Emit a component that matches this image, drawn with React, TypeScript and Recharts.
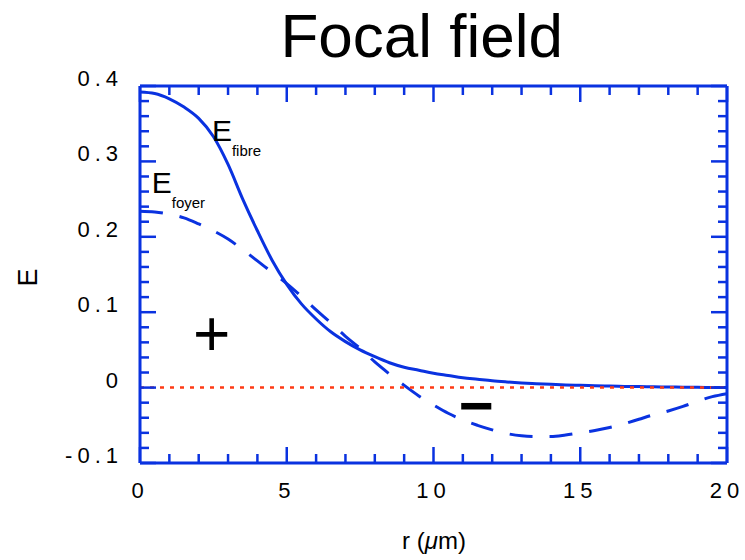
import React from 'react';
import { LineChart, Line, XAxis, YAxis, ReferenceLine, ReferenceDot } from 'recharts';

const rValues = [0, 0.5, 1, 1.5, 2, 2.5, 3, 3.5, 4, 4.5, 5, 5.5, 6, 6.5, 7, 7.5, 8, 8.5, 9, 9.5, 10, 10.5, 11, 11.5, 12, 12.5, 13, 13.5, 14, 14.5, 15, 15.5, 16, 16.5, 17, 17.5, 18, 18.5, 19, 19.5, 20];
const eFibre = [0.392, 0.39, 0.383, 0.372, 0.357, 0.333, 0.296, 0.25, 0.208, 0.169, 0.137, 0.111, 0.091, 0.074, 0.061, 0.05, 0.041, 0.033, 0.027, 0.023, 0.019, 0.016, 0.013, 0.011, 0.009, 0.0075, 0.0062, 0.0052, 0.0043, 0.0036, 0.003, 0.0025, 0.002, 0.0016, 0.0013, 0.001, 0.0008, 0.0006, 0.0004, 0.0002, 0.0001];
const eFoyer = [0.234, 0.233, 0.23, 0.225, 0.217, 0.208, 0.197, 0.183, 0.168, 0.153, 0.138, 0.121, 0.103, 0.086, 0.068, 0.052, 0.034, 0.018, 0.003, -0.011, -0.023, -0.034, -0.043, -0.05, -0.056, -0.061, -0.064, -0.065, -0.065, -0.063, -0.06, -0.057, -0.053, -0.048, -0.042, -0.036, -0.031, -0.025, -0.018, -0.012, -0.008];

const xTicks = [0, 1, 2, 3, 4, 5, 6, 7, 8, 9, 10, 11, 12, 13, 14, 15, 16, 17, 18, 19, 20];
const xMajorTicks = [0, 5, 10, 15, 20];
const yTicks = [-0.1, -0.08, -0.06, -0.04, -0.02, 0, 0.02, 0.04, 0.06, 0.08, 0.1, 0.12, 0.14, 0.16, 0.18, 0.2, 0.22, 0.24, 0.26, 0.28, 0.3, 0.32, 0.34, 0.36, 0.38, 0.4];
const yMajorTicks = [-0.1, 0, 0.1, 0.2, 0.3, 0.4];

const data = rValues.map((r, i) => ({ r, fibre: eFibre[i], foyer: eFoyer[i] }));

const BLUE = '#0a32e0';
const RED = '#ff3a14';
const FONT = '"Liberation Sans", Arial, Helvetica, sans-serif';
const W = 745;
const H = 560;

const isMajor = (v: number, list: number[]) => list.some((m) => Math.abs(m - v) < 1e-9);

const XTick = (side: 'top' | 'bottom') => (props: any) => {
  const { x, y, payload } = props;
  const v = payload.value as number;
  const major = isMajor(v, xMajorTicks);
  const len = major ? 16 : 9;
  const dir = side === 'bottom' ? -1 : 1;
  return (
    <g>
      <line x1={x} y1={y} x2={x} y2={y + dir * len} stroke={BLUE} strokeWidth={2.5} />
      {side === 'bottom' && major && (
        <text x={x} y={y + 35} textAnchor="middle" fontFamily={FONT} fontSize={22} letterSpacing={5} fill="#000">
          {String(v)}
        </text>
      )}
    </g>
  );
};

const YTick = (side: 'left' | 'right') => (props: any) => {
  const { x, y, payload } = props;
  const v = payload.value as number;
  const major = isMajor(v, yMajorTicks);
  const len = major ? 16 : 9;
  const dir = side === 'left' ? 1 : -1;
  return (
    <g>
      <line x1={x} y1={y} x2={x + dir * len} y2={y} stroke={BLUE} strokeWidth={2.5} />
      {side === 'left' && major && (
        <text x={x - 17} y={y} textAnchor="end" fontFamily={FONT} fontSize={22} letterSpacing={5} fill="#000">
          {String(Math.round(v * 10) / 10)}
        </text>
      )}
    </g>
  );
};

const ESub = (main: string, sub: string) => (props: any) => (
  <text x={props.cx} y={props.cy} fontFamily={FONT} fill="#000">
    <tspan fontSize={30}>{main}</tspan>
    <tspan fontSize={15} dy={15}>{sub}</tspan>
  </text>
);

const Sign = (ch: string, size: number, bold: boolean) => (props: any) => (
  <text x={props.cx} y={props.cy + size * 0.35} textAnchor="middle" fontFamily={FONT} fontSize={size} fontWeight={bold ? 'bold' : 'normal'} fill="#000">
    {ch}
  </text>
);

export default function App() {
  return (
    <div style={{ position: 'absolute', left: 0, top: 0, width: W, height: H, background: '#fff' }}>
      <LineChart width={W} height={H} data={data} margin={{ top: 0, right: 0, bottom: 0, left: 0 }}>
        <XAxis
          xAxisId="bottom"
          dataKey="r"
          type="number"
          domain={[0, 20]}
          allowDataOverflow
          ticks={xTicks}
          interval={0}
          height={97}
          tickSize={0}
          tickMargin={0}
          tickLine={false}
          axisLine={{ stroke: BLUE, strokeWidth: 3 }}
          tick={XTick('bottom')}
        />
        <XAxis
          xAxisId="top"
          orientation="top"
          dataKey="r"
          type="number"
          domain={[0, 20]}
          allowDataOverflow
          ticks={xTicks}
          interval={0}
          height={86}
          tickSize={0}
          tickMargin={0}
          tickLine={false}
          axisLine={{ stroke: BLUE, strokeWidth: 3 }}
          tick={XTick('top')}
        />
        <YAxis
          yAxisId="left"
          type="number"
          domain={[-0.1, 0.4]}
          allowDataOverflow
          ticks={yTicks}
          interval={0}
          width={140}
          tickSize={0}
          tickMargin={0}
          tickLine={false}
          axisLine={{ stroke: BLUE, strokeWidth: 3 }}
          tick={YTick('left')}
        />
        <YAxis
          yAxisId="right"
          orientation="right"
          type="number"
          domain={[-0.1, 0.4]}
          allowDataOverflow
          ticks={yTicks}
          interval={0}
          width={18}
          tickSize={0}
          tickMargin={0}
          tickLine={false}
          axisLine={{ stroke: BLUE, strokeWidth: 3 }}
          tick={YTick('right')}
        />
        <Line
          xAxisId="top"
          yAxisId="right"
          dataKey="fibre"
          stroke="none"
          strokeWidth={0}
          dot={false}
          activeDot={false}
          isAnimationActive={false}
        />
        <Line
          xAxisId="bottom"
          yAxisId="left"
          type="monotone"
          dataKey="foyer"
          stroke={BLUE}
          strokeWidth={3}
          strokeDasharray="23 17"
          dot={false}
          activeDot={false}
          isAnimationActive={false}
        />
        <Line
          xAxisId="bottom"
          yAxisId="left"
          type="monotone"
          dataKey="fibre"
          stroke={BLUE}
          strokeWidth={3}
          dot={false}
          activeDot={false}
          isAnimationActive={false}
        />
        <ReferenceLine xAxisId="bottom" yAxisId="left" y={0} stroke={RED} strokeWidth={2.5} strokeDasharray="4 6" />
        <ReferenceDot xAxisId="bottom" yAxisId="left" x={2.45} y={0.327} r={0} shape={ESub('E', 'fibre')} />
        <ReferenceDot xAxisId="bottom" yAxisId="left" x={0.4} y={0.258} r={0} shape={ESub('E', 'foyer')} />
        <ReferenceDot xAxisId="bottom" yAxisId="left" x={2.44} y={0.0715} r={0} shape={Sign('+', 64, false)} />
        <ReferenceDot xAxisId="bottom" yAxisId="left" x={11.45} y={-0.0233} r={0} shape={Sign('\u2212', 60, true)} />
      </LineChart>
      <svg width={W} height={H} style={{ position: 'absolute', left: 0, top: 0, pointerEvents: 'none' }}>
        <text x={421.7} y={56.7} textAnchor="middle" fontFamily={FONT} fontSize={62} fill="#000">
          Focal field
        </text>
        <text x={434} y={549} textAnchor="middle" fontFamily={FONT} fontSize={24} fill="#000">
          r (<tspan fontStyle="italic">μ</tspan>m)
        </text>
        <text x={37} y={277.5} textAnchor="middle" fontFamily={FONT} fontSize={27} fill="#000" transform="rotate(-90 37 277.5)">
          E
        </text>
      </svg>
    </div>
  );
}
